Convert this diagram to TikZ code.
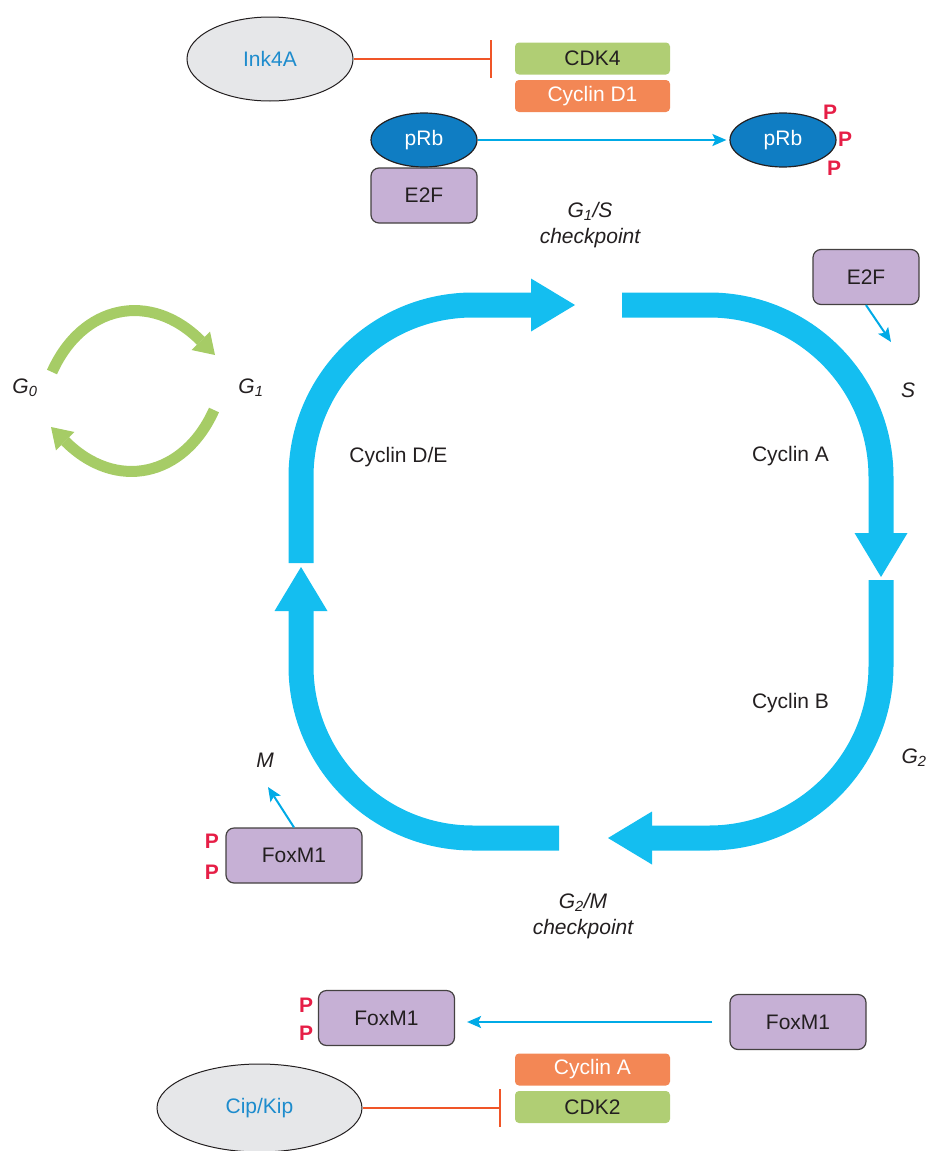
\documentclass[tikz,border=0pt]{standalone}
\usepackage{fontspec}
\setmainfont{Liberation Sans}
\usetikzlibrary{arrows.meta,shapes.geometric}

\definecolor{cycblue}{RGB}{20,190,240}
\definecolor{sigblue}{RGB}{0,170,230}
\definecolor{inkblue}{RGB}{30,140,205}
\definecolor{rbblue}{RGB}{15,125,195}
\definecolor{lavender}{RGB}{198,176,213}
\definecolor{cdkgreen}{RGB}{176,206,116}
\definecolor{cycorange}{RGB}{243,135,85}
\definecolor{phosred}{RGB}{230,30,70}
\definecolor{inhred}{RGB}{240,85,40}
\definecolor{inhgrey}{RGB}{230,231,233}
\definecolor{phgreen}{RGB}{166,204,102}
\definecolor{txt}{RGB}{35,31,32}

\tikzset{
	every node/.style={font=\fontsize{21}{26}\selectfont, text=txt},
	protbox/.style={draw=txt!85, line width=1.2pt, fill=lavender, rounded corners=8pt, minimum width=136pt, minimum height=55pt, inner sep=0pt},
	cdkbox/.style={fill=cdkgreen, rounded corners=4pt, minimum width=155pt, minimum height=32pt, inner sep=0pt},
	cycbox/.style={fill=cycorange, rounded corners=4pt, minimum width=155pt, minimum height=32pt, inner sep=0pt, text=white},
	inhoval/.style={ellipse, draw=txt, line width=1pt, fill=inhgrey, inner sep=0pt, text=inkblue},
	rboval/.style={ellipse, draw=txt, line width=1.2pt, fill=rbblue, minimum width=106pt, minimum height=54pt, inner sep=0pt, text=white},
	phaselbl/.style={font=\fontsize{21}{26}\selectfont\itshape, align=center},
	phos/.style={font=\fontsize{21}{26}\selectfont\bfseries, text=phosred, inner sep=0pt},
	cyclearrow/.style={draw=cycblue, line width=25pt, rounded corners=172pt, -{Triangle[width=53pt,length=44pt,line width=0pt]}},
	phasearrow/.style={draw=phgreen, line width=11pt, -{Triangle[width=26pt,length=20pt,line width=0pt]}},
	signal/.style={draw=sigblue, line width=2pt, -{Stealth[length=14pt,width=12pt,inset=3pt]}},
	inhibit/.style={draw=inhred, line width=2pt, -{Bar[width=38pt]}}
}

\begin{document}
\begin{tikzpicture}[x=1pt, y=-1pt]
	%%%%% START %%%%%
	\useasboundingbox (0,0) rectangle (929,1151);
	
	% top: Ink4A, CDK4/Cyclin D1, pRb
	\node[inhoval, minimum width=166pt, minimum height=84pt] (ink) at (270,59) {Ink4A};
	\node[cdkbox] (cdk4) at (592.5,58.5) {CDK4};
	\node[cycbox] (cycd1) at (592.5,96) {Cyclin D1};
	\coordinate (inkbar) at (492,59);
	\draw[inhibit] (ink.east) -- (inkbar);
	
	\node[rboval] (rbl) at (424,140) {pRb};
	\node[protbox, minimum width=106pt] (e2fl) at (424,195.5) {E2F};
	\node[rboval] (rbr) at (783,140) {pRb};
	\node[phos] (p1) at (830,112) {P};
	\node[phos] (p2) at (845,139) {P};
	\node[phos] (p3) at (834,168) {P};
	\draw[signal, shorten >=3pt] (rbl.east) -- (rbr.west);
	
	\node[phaselbl] (g1s) at (590,225) {G\textsubscript{1}/S\\checkpoint};
	
	% cycle
	\draw[cyclearrow] (301,563) -- (301,305) -- (575,305);
	\draw[cyclearrow] (622,305) -- (881,305) -- (881,577);
	\draw[cyclearrow] (881,580) -- (881,838) -- (608,838);
	\draw[cyclearrow] (559,838) -- (301,838) -- (301,567);
	
	\node (cycde) at (398.5,457) {Cyclin D/E};
	\node (cyca) at (790.5,456) {Cyclin A};
	\node (cycb) at (790.5,703) {Cyclin B};
	
	\node[protbox, minimum width=106pt] (e2fr) at (866,277) {E2F};
	\coordinate (sin) at (891,342);
	\draw[signal] (e2fr.south) -- (sin);
	\node[phaselbl] (s) at (908,390) {S};
	\node[phaselbl] (g2) at (914,758) {G\textsubscript{2}};
	\node[phaselbl] (m) at (265,760) {M};
	
	% G0 <-> G1
	\node[phaselbl] (g0) at (25,388) {G\textsubscript{0}};
	\node[phaselbl] (g1) at (251,388) {G\textsubscript{1}};
	\draw[phasearrow] (52,372) .. controls (82,305) and (150,290) .. (215,355);
	\draw[phasearrow] (214,410) .. controls (184,477) and (116,492) .. (51,427);
	
	% FoxM1 -> M
	\node[protbox] (foxm) at (294,855.5) {FoxM1};
	\node[phos] (p4) at (212,841) {P};
	\node[phos] (p5) at (212,872) {P};
	\coordinate (mout) at (268,787);
	\draw[signal] (foxm.north) -- (mout);
	
	\node[phaselbl] (g2m) at (583,916) {G\textsubscript{2}/M\\checkpoint};
	
	% bottom: FoxM1, Cyclin A/CDK2, Cip/Kip
	\node[protbox] (foxp) at (386.5,1018) {FoxM1};
	\node[phos] (p6) at (306,1005) {P};
	\node[phos] (p7) at (306,1033) {P};
	\node[protbox] (foxb) at (798,1022) {FoxM1};
	\draw[signal, shorten <=17pt, shorten >=12pt] (foxb.west) -- (foxb.west -| foxp.east);
	
	\node[cycbox] (cycab) at (592.5,1069.5) {Cyclin A};
	\node[cdkbox] (cdk2) at (592.5,1107) {CDK2};
	\node[inhoval, minimum width=205pt, minimum height=88pt] (cip) at (259.5,1108) {Cip/Kip};
	\coordinate (cipbar) at (501,1108);
	\draw[inhibit] (cip.east) -- (cipbar);
	
	%%%%% END %%%%%
\end{tikzpicture}
\end{document}
